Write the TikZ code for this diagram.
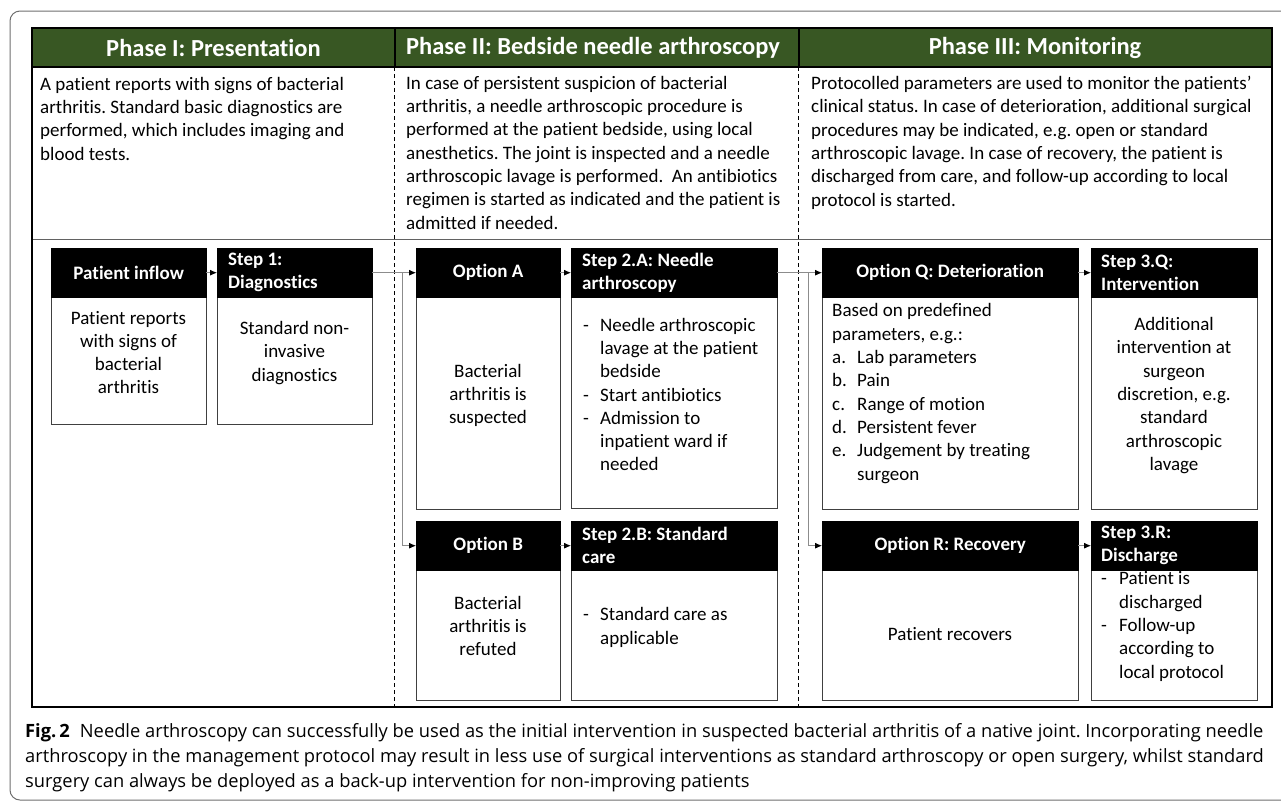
\documentclass[tikz,border=0pt]{standalone}
\usepackage{fontspec}
\setmainfont{Carlito}[Ligatures={TeX,NoCommon}]
\newfontfamily\capfont{Open Sans}
\usepackage{tikz}
\usetikzlibrary{arrows.meta,calc}
\definecolor{phasegreen}{HTML}{385723}
\definecolor{framegray}{HTML}{6E6E6E}
\definecolor{boxgray}{HTML}{404040}
\definecolor{linegray}{HTML}{8C8C8C}
\newcommand{\itemdash}[1]{\makebox[#1][l]{-}}
\newcommand{\itemcont}[1]{\hspace*{#1}}
\frenchspacing

\begin{document}
\begin{tikzpicture}[x=1pt,y=-1pt]
      \tikzstyle{point} = [coordinate]
      \tikzstyle{head} = [rectangle, draw=black, fill=black, text=white, anchor=north west, inner sep=0pt, minimum height=49, font=\bfseries\fontsize{19}{23.3}\selectfont, align=center]
      \tikzstyle{box} = [rectangle, draw=boxgray, line width=1, fill=white, anchor=north west]
      \tikzstyle{txt} = [inner sep=0pt, font=\fontsize{19}{23.3}\selectfont]
      \tikzstyle{phase} = [text=white, inner sep=0pt, font=\bfseries\fontsize{24.5}{28}\selectfont]
      \tikzstyle{flow} = [draw=linegray, line width=0.8, -{Latex[length=7pt,width=6pt,color=black]}]
      \useasboundingbox (0,0) rectangle (1281,801);
      % outer frame
      \draw [framegray, line width=1, rounded corners=10] (1281,11) -- (10,11) -- (10,800) -- (1281,800);
      % table
      \fill [phasegreen] (32,28) rectangle (1272,67);
      \draw [linegray!70!black, line width=0.8] (32,239) -- (1272,239);
      \draw [line width=1.2] (32,67) -- (1272,67);
      \draw [line width=1.2] (395,28) -- (395,67);
      \draw [line width=1.2] (799,28) -- (799,67);
      \draw [line width=1, dash pattern=on 4pt off 3pt] (394,67) -- (394,707);
      \draw [line width=1, dash pattern=on 4pt off 3pt] (798,67) -- (798,707);
      \draw [line width=1.2] (32,707) -- (32,28) -- (1272,28) -- (1272,707);
      \draw [line width=2] (31,707) -- (1273,707);
      % phase headers
      \node (ph1) [phase] at (213.5,47.5) {Phase I: Presentation};
      \node (ph2) [phase] at (593,47.5) {Phase II: Bedside needle arthroscopy};
      \node (ph3) [phase] at (1035,47.5) {Phase III: Monitoring};
      % phase descriptions
      \node (ph1txt) [txt, anchor=north west, align=left] at (40,77) {A patient reports with signs of bacterial\\arthritis. Standard basic diagnostics are\\performed, which includes imaging and\\blood tests.};
      \node (ph2txt) [txt, anchor=north west, align=left] at (406,76) {In case of persistent suspicion of bacterial\\arthritis, a needle arthroscopic procedure is\\performed at the patient bedside, using local\\anesthetics. The joint is inspected and a needle\\arthroscopic lavage is performed.\ \ An antibiotics\\regimen is started as indicated and the patient is\\admitted if needed.};
      \node (ph3txt) [txt, anchor=north west, align=left] at (811,76) {Protocolled parameters are used to monitor the patients'\\clinical status. In case of deterioration, additional surgical\\procedures may be indicated, e.g. open or standard\\arthroscopic lavage. In case of recovery, the patient is\\discharged from care, and follow-up according to local\\protocol is started.};
      % first row
      \node (inflowB) [box, minimum width=155, minimum height=127] at (51,297) {};
      \node (inflowH) [head, minimum width=155] at (51,248) {Patient inflow};
      \node (inflowT) [txt, align=center] at (128.5,352.5) {Patient reports\\with signs of\\bacterial\\arthritis};
      \node (step1B) [box, minimum width=155, minimum height=127] at (217,297) {};
      \node (step1H) [head, minimum width=155, text width=133, align=flush left] at (217,248) {Step 1:\\Diagnostics};
      \node (step1T) [txt, align=center] at (294.5,353) {Standard non-\\invasive\\diagnostics};
      \node (optAB) [box, minimum width=144, minimum height=212] at (416,297) {};
      \node (optAH) [head, minimum width=144] at (416,248) {Option A};
      \node (optAT) [txt, align=center] at (488,395.5) {Bacterial\\arthritis is\\suspected};
      \node (step2AB) [box, minimum width=206, minimum height=211] at (571,297) {};
      \node (step2AH) [head, minimum width=206, text width=184, align=flush left] at (571,248) {Step 2.A: Needle\\arthroscopy};
      \node (step2AT) [txt, anchor=west, align=left] at (583,394.5) {\itemdash{17pt}Needle arthroscopic\\\itemcont{17pt}lavage at the patient\\\itemcont{17pt}bedside\\\itemdash{17pt}Start antibiotics\\\itemdash{17pt}Admission to\\\itemcont{17pt}inpatient ward if\\\itemcont{17pt}needed};
      \node (optQB) [box, minimum width=256, minimum height=212] at (822,297) {};
      \node (optQH) [head, minimum width=256] at (822,248) {Option Q: Deterioration};
      \node (optQT) [txt, anchor=west, align=left] at (832,393.5) {Based on predefined\\parameters, e.g.:\\\makebox[25pt][l]{a.}Lab parameters\\\makebox[25pt][l]{b.}Pain\\\makebox[25pt][l]{c.}Range of motion\\\makebox[25pt][l]{d.}Persistent fever\\\makebox[25pt][l]{e.}Judgement by treating\\\itemcont{25pt}surgeon};
      \node (step3QB) [box, minimum width=166, minimum height=212] at (1091,297) {};
      \node (step3QH) [head, minimum width=166, text width=146, align=flush left] at (1091,248) {Step 3.Q:\\Intervention};
      \node (step3QT) [txt, align=center] at (1174,395.5) {Additional\\intervention at\\surgeon\\discretion, e.g.\\standard\\arthroscopic\\lavage};
      % second row
      \node (optBB) [box, minimum width=144, minimum height=131] at (416,569) {};
      \node (optBH) [head, minimum width=144] at (416,521) {Option B};
      \node (optBT) [txt, align=center] at (488,626) {Bacterial\\arthritis is\\refuted};
      \node (step2BB) [box, minimum width=206, minimum height=131] at (571,569) {};
      \node (step2BH) [head, minimum width=206, text width=184, align=flush left] at (571,521) {Step 2.B: Standard\\care};
      \node (step2BT) [txt, anchor=west, align=left] at (583,627.5) {\itemdash{17pt}Standard care as\\\itemcont{17pt}applicable};
      \node (optRB) [box, minimum width=256, minimum height=131] at (822,569) {};
      \node (optRH) [head, minimum width=256] at (822,521) {Option R: Recovery};
      \node (optRT) [txt, align=center] at (950,634) {Patient recovers};
      \node (step3RB) [box, minimum width=166, minimum height=131] at (1091,569) {};
      \node (step3RH) [head, minimum width=166, text width=146, align=flush left] at (1091,521) {Step 3.R:\\Discharge};
      \node (step3RT) [txt, anchor=west, align=left] at (1101,626.5) {\itemdash{18pt}Patient is\\\itemcont{18pt}discharged\\\itemdash{18pt}Follow-up\\\itemcont{18pt}according to\\\itemcont{18pt}local protocol};
      % connectors
      \node (splitA) [point] at ($(step1H.east)!0.68!(optAH.west)$) {};
      \node (splitQ) [point] at ($(step2AH.east)!0.69!(optQH.west)$) {};
      \draw [flow] (inflowH) -- (step1H);
      \draw [flow] (step1H) -- (optAH);
      \draw [flow] (splitA) |- (optBH);
      \draw [flow] (optAH) -- (step2AH);
      \draw [flow] (optBH) -- (step2BH);
      \draw [flow] (step2AH) -- (optQH);
      \draw [flow] (splitQ) |- (optRH);
      \draw [flow] (optQH) -- (step3QH);
      \draw [flow] (optRH) -- (step3RH);
      % caption
      \node (caption) [anchor=north west, inner sep=0pt, align=left, font=\capfont\fontsize{18.3}{25}\selectfont] at (25,723) {\textbf{Fig.\,2}\hspace{0.55em}Needle arthroscopy can successfully be used as the initial intervention in suspected bacterial arthritis of a native joint. Incorporating needle\\arthroscopy in the management protocol may result in less use of surgical interventions as standard arthroscopy or open surgery, whilst standard\\surgery can always be deployed as a back-up intervention for non-improving patients};
\end{tikzpicture}
\end{document}
